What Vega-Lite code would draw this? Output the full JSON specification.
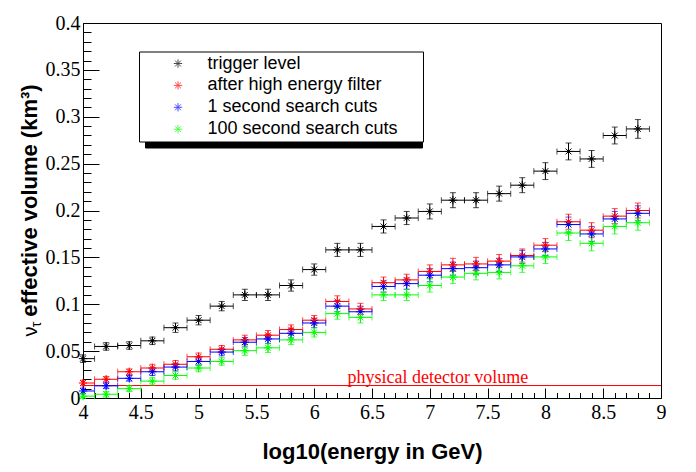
{
  "$schema": "https://vega.github.io/schema/vega-lite/v6.json",
  "width": 578,
  "height": 375,
  "autosize": "none",
  "padding": {"left": 83, "top": 23, "right": 35, "bottom": 74},
  "background": "white",
  "config": {
    "view": {"stroke": "black", "strokeWidth": 1},
    "axis": {"grid": false, "domain": false, "labelFont": "Liberation Serif", "labelFontSize": 20, "labelColor": "black", "tickColor": "black", "tickWidth": 1, "labelOverlap": false, "labelFlush": false, "labelBound": false, "titleColor": "black"}
  },
  "datasets": {
    "pts": [
      {"s": "trigger level", "x": 4.0, "y": 0.042, "e": 0.004, "xe": 0.1},
      {"s": "trigger level", "x": 4.2, "y": 0.055, "e": 0.004, "xe": 0.1},
      {"s": "trigger level", "x": 4.4, "y": 0.056, "e": 0.004, "xe": 0.1},
      {"s": "trigger level", "x": 4.6, "y": 0.061, "e": 0.004, "xe": 0.1},
      {"s": "trigger level", "x": 4.8, "y": 0.075, "e": 0.005, "xe": 0.1},
      {"s": "trigger level", "x": 5.0, "y": 0.083, "e": 0.005, "xe": 0.1},
      {"s": "trigger level", "x": 5.2, "y": 0.098, "e": 0.005, "xe": 0.1},
      {"s": "trigger level", "x": 5.4, "y": 0.110, "e": 0.006, "xe": 0.1},
      {"s": "trigger level", "x": 5.6, "y": 0.110, "e": 0.006, "xe": 0.1},
      {"s": "trigger level", "x": 5.8, "y": 0.120, "e": 0.006, "xe": 0.1},
      {"s": "trigger level", "x": 6.0, "y": 0.137, "e": 0.006, "xe": 0.1},
      {"s": "trigger level", "x": 6.2, "y": 0.158, "e": 0.007, "xe": 0.1},
      {"s": "trigger level", "x": 6.4, "y": 0.158, "e": 0.007, "xe": 0.1},
      {"s": "trigger level", "x": 6.6, "y": 0.183, "e": 0.007, "xe": 0.1},
      {"s": "trigger level", "x": 6.8, "y": 0.192, "e": 0.007, "xe": 0.1},
      {"s": "trigger level", "x": 7.0, "y": 0.199, "e": 0.008, "xe": 0.1},
      {"s": "trigger level", "x": 7.2, "y": 0.211, "e": 0.008, "xe": 0.1},
      {"s": "trigger level", "x": 7.4, "y": 0.211, "e": 0.008, "xe": 0.1},
      {"s": "trigger level", "x": 7.6, "y": 0.218, "e": 0.008, "xe": 0.1},
      {"s": "trigger level", "x": 7.8, "y": 0.227, "e": 0.008, "xe": 0.1},
      {"s": "trigger level", "x": 8.0, "y": 0.242, "e": 0.009, "xe": 0.1},
      {"s": "trigger level", "x": 8.2, "y": 0.263, "e": 0.009, "xe": 0.1},
      {"s": "trigger level", "x": 8.4, "y": 0.255, "e": 0.009, "xe": 0.1},
      {"s": "trigger level", "x": 8.6, "y": 0.280, "e": 0.009, "xe": 0.1},
      {"s": "trigger level", "x": 8.8, "y": 0.287, "e": 0.010, "xe": 0.1},
      {"s": "after high energy filter", "x": 4.0, "y": 0.016, "e": 0.003, "xe": 0.1},
      {"s": "after high energy filter", "x": 4.2, "y": 0.020, "e": 0.003, "xe": 0.1},
      {"s": "after high energy filter", "x": 4.4, "y": 0.028, "e": 0.003, "xe": 0.1},
      {"s": "after high energy filter", "x": 4.6, "y": 0.032, "e": 0.004, "xe": 0.1},
      {"s": "after high energy filter", "x": 4.8, "y": 0.036, "e": 0.004, "xe": 0.1},
      {"s": "after high energy filter", "x": 5.0, "y": 0.044, "e": 0.004, "xe": 0.1},
      {"s": "after high energy filter", "x": 5.2, "y": 0.052, "e": 0.004, "xe": 0.1},
      {"s": "after high energy filter", "x": 5.4, "y": 0.062, "e": 0.005, "xe": 0.1},
      {"s": "after high energy filter", "x": 5.6, "y": 0.067, "e": 0.005, "xe": 0.1},
      {"s": "after high energy filter", "x": 5.8, "y": 0.073, "e": 0.005, "xe": 0.1},
      {"s": "after high energy filter", "x": 6.0, "y": 0.083, "e": 0.005, "xe": 0.1},
      {"s": "after high energy filter", "x": 6.2, "y": 0.103, "e": 0.006, "xe": 0.1},
      {"s": "after high energy filter", "x": 6.4, "y": 0.095, "e": 0.006, "xe": 0.1},
      {"s": "after high energy filter", "x": 6.6, "y": 0.123, "e": 0.006, "xe": 0.1},
      {"s": "after high energy filter", "x": 6.8, "y": 0.126, "e": 0.006, "xe": 0.1},
      {"s": "after high energy filter", "x": 7.0, "y": 0.135, "e": 0.007, "xe": 0.1},
      {"s": "after high energy filter", "x": 7.2, "y": 0.142, "e": 0.007, "xe": 0.1},
      {"s": "after high energy filter", "x": 7.4, "y": 0.143, "e": 0.007, "xe": 0.1},
      {"s": "after high energy filter", "x": 7.6, "y": 0.146, "e": 0.007, "xe": 0.1},
      {"s": "after high energy filter", "x": 7.8, "y": 0.152, "e": 0.007, "xe": 0.1},
      {"s": "after high energy filter", "x": 8.0, "y": 0.163, "e": 0.007, "xe": 0.1},
      {"s": "after high energy filter", "x": 8.2, "y": 0.188, "e": 0.008, "xe": 0.1},
      {"s": "after high energy filter", "x": 8.4, "y": 0.179, "e": 0.008, "xe": 0.1},
      {"s": "after high energy filter", "x": 8.6, "y": 0.194, "e": 0.008, "xe": 0.1},
      {"s": "after high energy filter", "x": 8.8, "y": 0.200, "e": 0.008, "xe": 0.1},
      {"s": "1 second search cuts", "x": 4.0, "y": 0.0075, "e": 0.003, "xe": 0.1},
      {"s": "1 second search cuts", "x": 4.2, "y": 0.013, "e": 0.003, "xe": 0.1},
      {"s": "1 second search cuts", "x": 4.4, "y": 0.021, "e": 0.003, "xe": 0.1},
      {"s": "1 second search cuts", "x": 4.6, "y": 0.028, "e": 0.004, "xe": 0.1},
      {"s": "1 second search cuts", "x": 4.8, "y": 0.033, "e": 0.004, "xe": 0.1},
      {"s": "1 second search cuts", "x": 5.0, "y": 0.039, "e": 0.004, "xe": 0.1},
      {"s": "1 second search cuts", "x": 5.2, "y": 0.049, "e": 0.004, "xe": 0.1},
      {"s": "1 second search cuts", "x": 5.4, "y": 0.0595, "e": 0.005, "xe": 0.1},
      {"s": "1 second search cuts", "x": 5.6, "y": 0.063, "e": 0.005, "xe": 0.1},
      {"s": "1 second search cuts", "x": 5.8, "y": 0.069, "e": 0.005, "xe": 0.1},
      {"s": "1 second search cuts", "x": 6.0, "y": 0.080, "e": 0.005, "xe": 0.1},
      {"s": "1 second search cuts", "x": 6.2, "y": 0.098, "e": 0.006, "xe": 0.1},
      {"s": "1 second search cuts", "x": 6.4, "y": 0.092, "e": 0.006, "xe": 0.1},
      {"s": "1 second search cuts", "x": 6.6, "y": 0.119, "e": 0.006, "xe": 0.1},
      {"s": "1 second search cuts", "x": 6.8, "y": 0.122, "e": 0.006, "xe": 0.1},
      {"s": "1 second search cuts", "x": 7.0, "y": 0.131, "e": 0.007, "xe": 0.1},
      {"s": "1 second search cuts", "x": 7.2, "y": 0.138, "e": 0.007, "xe": 0.1},
      {"s": "1 second search cuts", "x": 7.4, "y": 0.139, "e": 0.007, "xe": 0.1},
      {"s": "1 second search cuts", "x": 7.6, "y": 0.142, "e": 0.007, "xe": 0.1},
      {"s": "1 second search cuts", "x": 7.8, "y": 0.1505, "e": 0.007, "xe": 0.1},
      {"s": "1 second search cuts", "x": 8.0, "y": 0.159, "e": 0.007, "xe": 0.1},
      {"s": "1 second search cuts", "x": 8.2, "y": 0.185, "e": 0.008, "xe": 0.1},
      {"s": "1 second search cuts", "x": 8.4, "y": 0.175, "e": 0.008, "xe": 0.1},
      {"s": "1 second search cuts", "x": 8.6, "y": 0.191, "e": 0.008, "xe": 0.1},
      {"s": "1 second search cuts", "x": 8.8, "y": 0.197, "e": 0.008, "xe": 0.1},
      {"s": "100 second search cuts", "x": 4.0, "y": 0.002, "e": 0.003, "xe": 0.1},
      {"s": "100 second search cuts", "x": 4.2, "y": 0.004, "e": 0.003, "xe": 0.1},
      {"s": "100 second search cuts", "x": 4.4, "y": 0.010, "e": 0.003, "xe": 0.1},
      {"s": "100 second search cuts", "x": 4.6, "y": 0.018, "e": 0.004, "xe": 0.1},
      {"s": "100 second search cuts", "x": 4.8, "y": 0.024, "e": 0.004, "xe": 0.1},
      {"s": "100 second search cuts", "x": 5.0, "y": 0.032, "e": 0.004, "xe": 0.1},
      {"s": "100 second search cuts", "x": 5.2, "y": 0.039, "e": 0.004, "xe": 0.1},
      {"s": "100 second search cuts", "x": 5.4, "y": 0.0505, "e": 0.005, "xe": 0.1},
      {"s": "100 second search cuts", "x": 5.6, "y": 0.0535, "e": 0.005, "xe": 0.1},
      {"s": "100 second search cuts", "x": 5.8, "y": 0.062, "e": 0.005, "xe": 0.1},
      {"s": "100 second search cuts", "x": 6.0, "y": 0.070, "e": 0.005, "xe": 0.1},
      {"s": "100 second search cuts", "x": 6.2, "y": 0.090, "e": 0.006, "xe": 0.1},
      {"s": "100 second search cuts", "x": 6.4, "y": 0.086, "e": 0.006, "xe": 0.1},
      {"s": "100 second search cuts", "x": 6.6, "y": 0.110, "e": 0.006, "xe": 0.1},
      {"s": "100 second search cuts", "x": 6.8, "y": 0.110, "e": 0.006, "xe": 0.1},
      {"s": "100 second search cuts", "x": 7.0, "y": 0.120, "e": 0.007, "xe": 0.1},
      {"s": "100 second search cuts", "x": 7.2, "y": 0.129, "e": 0.007, "xe": 0.1},
      {"s": "100 second search cuts", "x": 7.4, "y": 0.133, "e": 0.007, "xe": 0.1},
      {"s": "100 second search cuts", "x": 7.6, "y": 0.134, "e": 0.007, "xe": 0.1},
      {"s": "100 second search cuts", "x": 7.8, "y": 0.141, "e": 0.007, "xe": 0.1},
      {"s": "100 second search cuts", "x": 8.0, "y": 0.1505, "e": 0.007, "xe": 0.1},
      {"s": "100 second search cuts", "x": 8.2, "y": 0.176, "e": 0.008, "xe": 0.1},
      {"s": "100 second search cuts", "x": 8.4, "y": 0.165, "e": 0.008, "xe": 0.1},
      {"s": "100 second search cuts", "x": 8.6, "y": 0.183, "e": 0.008, "xe": 0.1},
      {"s": "100 second search cuts", "x": 8.8, "y": 0.187, "e": 0.008, "xe": 0.1}
    ],
    "phys": [{"v": 0.0133, "xpos": 7.07, "label": "physical detector volume"}]
  },
  "layer": [
    {
      "data": {"name": "phys"},
      "mark": {"type": "rule", "color": "#ff0000", "strokeWidth": 1},
      "encoding": {
        "y": {"field": "v", "type": "quantitative", "scale": {"domain": [0, 0.4], "nice": false, "clamp": true},
          "axis": {"orient": "left", "labels": false, "tickSize": -8, "values": [0,0.01,0.02,0.03,0.04,0.05,0.06,0.07,0.08,0.09,0.1,0.11,0.12,0.13,0.14,0.15,0.16,0.17,0.18,0.19,0.2,0.21,0.22,0.23,0.24,0.25,0.26,0.27,0.28,0.29,0.3,0.31,0.32,0.33,0.34,0.35,0.36,0.37,0.38,0.39,0.4],
            "title": "ν", "titleFont": "Liberation Sans", "titleFontWeight": "normal", "titleFontSize": 20, "titleX": -47, "titleY": 308, "titleBaseline": "alphabetic", "titleAngle": 270, "titleAlign": "center"}}
      }
    },
    {
      "data": {"name": "phys"},
      "mark": {"type": "text", "color": "#ff0000", "font": "Liberation Serif", "fontSize": 18, "baseline": "alphabetic", "align": "center", "dy": -3},
      "encoding": {
        "x": {"field": "xpos", "type": "quantitative", "scale": {"domain": [4, 9], "nice": false, "zero": false, "clamp": true},
          "axis": {"orient": "bottom", "labels": false, "tickSize": -5.5, "title": null, "values": [4,4.1,4.2,4.3,4.4,4.5,4.6,4.7,4.8,4.9,5,5.1,5.2,5.3,5.4,5.5,5.6,5.7,5.8,5.9,6,6.1,6.2,6.3,6.4,6.5,6.6,6.7,6.8,6.9,7,7.1,7.2,7.3,7.4,7.5,7.6,7.7,7.8,7.9,8,8.1,8.2,8.3,8.4,8.5,8.6,8.7,8.8,8.9,9]}},
        "y": {"field": "v", "type": "quantitative",
          "axis": {"orient": "left", "labels": false, "ticks": false, "title": "τ", "titleFont": "Liberation Sans", "titleFontWeight": "normal", "titleFontSize": 14, "titleX": -43, "titleY": 301, "titleBaseline": "alphabetic", "titleAngle": 270, "titleAlign": "center"}},
        "text": {"field": "label"}
      }
    },
    {
      "data": {"name": "pts"},
      "mark": {"type": "errorbar", "ticks": {"size": 6}, "rule": {"strokeWidth": 1}},
      "encoding": {
        "x": {"field": "x", "type": "quantitative",
          "axis": {"orient": "bottom", "values": [4,4.5,5,5.5,6,6.5,7,7.5,8,8.5,9], "format": "~g", "tickSize": -10, "labelPadding": 14.5,
            "title": "log10(energy in GeV)", "titleFont": "Liberation Sans", "titleFontWeight": "bold", "titleFontSize": 22, "titleY": 60.5, "titleBaseline": "alphabetic"}},
        "y": {"field": "y", "type": "quantitative",
          "axis": {"orient": "left", "values": [0,0.05,0.1,0.15,0.2,0.25,0.3,0.35,0.4], "format": "~g", "tickSize": -16, "labelPadding": 19,
            "title": "effective volume (km³)", "titleFont": "Liberation Sans", "titleFontWeight": "bold", "titleFontSize": 22, "titleX": -47, "titleY": 177, "titleBaseline": "alphabetic", "titleAngle": 270, "titleAlign": "center"}},
        "yError": {"field": "e"},
        "color": {"field": "s", "type": "nominal"}
      }
    },
    {
      "data": {"name": "pts"},
      "mark": {"type": "errorbar", "ticks": {"size": 6}, "rule": {"strokeWidth": 1}},
      "encoding": {
        "y": {"field": "y", "type": "quantitative", "axis": null},
        "x": {"field": "x", "type": "quantitative", "axis": null},
        "xError": {"field": "xe"},
        "color": {"field": "s", "type": "nominal"}
      }
    },
    {
      "data": {"name": "pts"},
      "mark": {"type": "point", "filled": false, "strokeWidth": 1, "size": 70, "opacity": 1, "shape": "M-1,0H1M0,-1V1M-0.7,-0.7L0.7,0.7M-0.7,0.7L0.7,-0.7"},
      "encoding": {
        "x": {"field": "x", "type": "quantitative", "axis": null},
        "y": {"field": "y", "type": "quantitative", "axis": null},
        "color": {"field": "s", "type": "nominal",
          "scale": {"domain": ["trigger level", "after high energy filter", "1 second search cuts", "100 second search cuts"], "range": ["#000000", "#ff0000", "#0000ff", "#00ff00"]},
          "legend": {"orient": "none", "legendX": 56, "legendY": 28.5, "title": ".", "titleOrient": "right", "titleAnchor": "start", "titleColor": "white", "titleFontSize": 10, "titlePadding": 18.5, "fillColor": "white", "strokeColor": "black", "padding": 3, "cornerRadius": 0,
            "symbolType": "M-1,0H1M0,-1V1M-0.7,-0.7L0.7,0.7M-0.7,0.7L0.7,-0.7", "symbolSize": 70, "symbolStrokeWidth": 1,
            "labelFont": "Liberation Sans", "labelFontSize": 18, "labelColor": "black", "rowPadding": 3.9, "symbolOffset": 27, "labelOffset": 20.5, "labelLimit": 400,
            "zindex": 2}}
      }
    },
    {
      "data": {"name": "pts"},
      "mark": {"type": "circle", "size": 8},
      "encoding": {
        "x": {"field": "x", "type": "quantitative", "axis": null},
        "y": {"field": "y", "type": "quantitative", "axis": null},
        "color": {"field": "s", "type": "nominal"},
        "opacity": {"field": "s", "type": "ordinal",
          "scale": {"domain": ["100 second search cuts", "1 second search cuts", "after high energy filter", "trigger level"], "range": [1, 1, 1, 1]},
          "legend": {"orient": "none", "legendX": 62, "legendY": 34.5, "title": ".", "titleOrient": "right", "titleAnchor": "end", "titleColor": "black", "titleFontSize": 10, "titlePadding": 202, "fillColor": "black", "strokeColor": "black", "padding": 3, "cornerRadius": 0,
            "symbolType": "M-1,0H1M0,-1V1M-0.7,-0.7L0.7,0.7M-0.7,0.7L0.7,-0.7", "symbolSize": 70, "symbolStrokeWidth": 1, "symbolFillColor": "black", "symbolStrokeColor": "black",
            "labelFont": "Liberation Sans", "labelFontSize": 18, "labelColor": "black", "rowPadding": 3.9, "symbolOffset": 27, "labelOffset": 20.5, "labelLimit": 400,
            "labelExpr": "'\u00a0'", "zindex": 1}}
      }
    }
  ],
  "resolve": {"axis": {"x": "independent", "y": "independent"}}
}
